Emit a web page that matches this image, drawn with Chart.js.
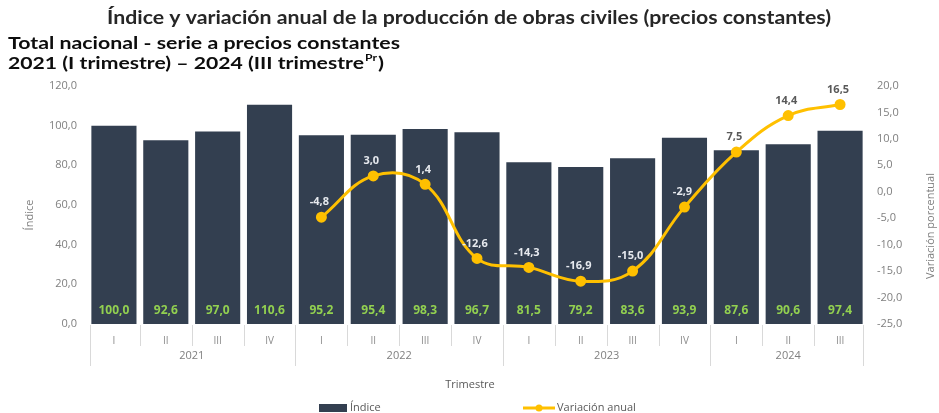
<!DOCTYPE html>
<html><head><meta charset="utf-8">
<script src="https://cdn.jsdelivr.net/npm/chart.js@4"></script>
<style>html,body{margin:0;padding:0;background:#fff;}#wrap{width:939px;height:413px;position:relative;}</style>
</head><body><div id="wrap"><canvas id="c" width="939" height="413"></canvas></div>
<script>
const quarters = ["I","II","III","IV","I","II","III","IV","I","II","III","IV","I","II","III"];
const years = ["2021","2022","2023","2024"];
const yearSizes = [4,4,4,3];
const indice = [100.0,92.6,97.0,110.6,95.2,95.4,98.3,96.7,81.5,79.2,83.6,93.9,87.6,90.6,97.4];
const variacion = [null,null,null,null,-4.8,3.0,1.4,-12.6,-14.3,-16.9,-15.0,-2.9,7.5,14.4,16.5];
const leftTicks = [0,20,40,60,80,100,120];
const rightTicks = [-25,-20,-15,-10,-5,0,5,10,15,20];

const fmt = v => v.toFixed(1).replace('.', ',');
const BAR = '#333f50', YEL = '#ffc000', GRAY = '#7f7f7f', DARK = '#595959';

function fitText(ctx, text, x, y, w) {
  const m = ctx.measureText(text).width;
  const s = w / m;
  ctx.save();
  ctx.translate(x, y);
  ctx.scale(s, 1);
  ctx.textAlign = 'left';
  ctx.fillText(text, 0, 0);
  ctx.restore();
  return m * s;
}

const deco = {
  id: 'deco',
  afterDraw(chart) {
    const ctx = chart.ctx;
    const x = chart.scales.x;
    const ca = chart.chartArea;
    const w = (ca.right - ca.left) / quarters.length;
    // titles
    ctx.save();
    ctx.fillStyle = '#262626';
    ctx.textBaseline = 'middle';
    ctx.font = 'bold 18px Lato';
    fitText(ctx, 'Índice y variación anual de la producción de obras civiles (precios constantes)', 107, 18, 724);
    ctx.font = 'bold 17px Lato';
    ctx.fillStyle = '#0d0d0d';
    fitText(ctx, 'Total nacional - serie a precios constantes', 8, 44, 392);
    const t3 = '2021 (I trimestre) – 2024 (III trimestre';
    const ww = fitText(ctx, t3, 8, 64, 356);
    ctx.font = 'bold 10px Lato';
    const pw = fitText(ctx, 'Pr', 8 + ww + 1, 58, 12);
    ctx.font = 'bold 17px Lato';
    fitText(ctx, ')', 8 + ww + pw + 2, 64, 6);
    ctx.restore();

    // separators
    ctx.save();
    ctx.strokeStyle = '#d9d9d9';
    ctx.lineWidth = 1;
    const yb = [0,4,8,12,15];
    for (let i = 0; i <= quarters.length; i++) {
      const px = Math.round(ca.left + i * w) + 0.5 + (i === 0 ? 2 : 0) - (i === quarters.length ? 3 : 0);
      ctx.beginPath();
      ctx.moveTo(px, ca.bottom + 1);
      ctx.lineTo(px, yb.includes(i) ? ca.bottom + 42 : ca.bottom + 22);
      ctx.stroke();
    }
    // year labels
    ctx.fillStyle = GRAY;
    ctx.font = '11px "Open Sans"';
    ctx.textAlign = 'center';
    ctx.textBaseline = 'middle';
    let start = 0;
    years.forEach((yv, k) => {
      const a = x.getPixelForValue(start), b = x.getPixelForValue(start + yearSizes[k] - 1);
      ctx.fillText(yv, (a + b) / 2, ca.bottom + 32);
      start += yearSizes[k];
    });
    // axis titles
    ctx.fillStyle = DARK;
    ctx.font = '11px "Open Sans"';
    ctx.fillText('Trimestre', 470, 385);
    ctx.save();
    ctx.translate(30, 215); ctx.rotate(-Math.PI / 2);
    ctx.fillStyle = GRAY; ctx.font = '11px "Open Sans"';
    ctx.fillText('Índice', 0, 0);
    ctx.restore();
    ctx.save();
    ctx.translate(931, 226); ctx.rotate(-Math.PI / 2);
    ctx.fillStyle = GRAY; ctx.font = '11px "Open Sans"';
    ctx.fillText('Variación porcentual', 0, 0);
    ctx.restore();

    // bar labels
    const lm = chart.getDatasetMeta(0);
    const bm = chart.getDatasetMeta(1);
    ctx.font = 'bold 12px "Open Sans"';
    ctx.fillStyle = '#92d050';
    bm.data.forEach((el, i) => {
      ctx.fillText(fmt(indice[i]), el.x, ca.bottom - 13);
    });
    // line labels
    ctx.font = 'bold 11px "Open Sans"';
    lm.data.forEach((el, i) => {
      if (variacion[i] === null) return;
      const ly = el.y - 15;
      const barTop = bm.data[i].y;
      ctx.fillStyle = ly > barTop + 4 ? '#e6e9ee' : DARK;
      ctx.fillText(fmt(variacion[i]), el.x - 2, ly);
    });

    // legend
    ctx.fillStyle = BAR;
    ctx.fillRect(319, 404, 28, 8);
    ctx.fillStyle = DARK;
    ctx.font = '11px "Open Sans"';
    ctx.textAlign = 'left';
    ctx.fillText('Índice', 350, 408);
    ctx.strokeStyle = YEL; ctx.lineWidth = 3;
    ctx.beginPath(); ctx.moveTo(523, 408); ctx.lineTo(555, 408); ctx.stroke();
    ctx.fillStyle = YEL;
    ctx.beginPath(); ctx.arc(539, 408, 3.5, 0, Math.PI * 2); ctx.fill();
    ctx.fillStyle = DARK;
    ctx.fillText('Variación anual', 557, 408);
    ctx.restore();
  }
};

new Chart(document.getElementById('c'), {
  data: {
    labels: quarters,
    datasets: [
      { type: 'line', label: 'Variación anual', data: variacion, yAxisID: 'y2', order: 0,
        borderColor: YEL, backgroundColor: YEL, borderWidth: 3, tension: 0.4,
        pointRadius: 4, pointBackgroundColor: YEL, pointBorderColor: YEL, spanGaps: false },
      { type: 'bar', label: 'Índice', data: indice, yAxisID: 'y', order: 1,
        backgroundColor: BAR, barPercentage: 0.87, categoryPercentage: 1.0 }
    ]
  },
  options: {
    responsive: false, animation: false,
    layout: { padding: { top: 86, left: 0, right: 0, bottom: 0 } },
    plugins: { legend: { display: false }, tooltip: { enabled: false } },
    scales: {
      x: {
        grid: { display: false }, border: { display: false },
        ticks: { color: '#8c8c8c', font: { size: 10, family: 'Open Sans' }, padding: 3, maxRotation: 0, autoSkip: false },
        afterFit(s) { s.height = 89; }
      },
      y: {
        position: 'left', min: 0, max: 120,
        grid: { display: false, drawTicks: false }, border: { display: false },
        ticks: { stepSize: 20, padding: 11, color: GRAY, font: { size: 11, family: 'Open Sans' }, callback: v => fmt(v) },
        afterBuildTicks(s) { s.ticks = leftTicks.map(v => ({ value: v })); },
        afterFit(s) { s.width = 88; }
      },
      y2: {
        position: 'right', min: -25, max: 20,
        grid: { display: false, drawTicks: false }, border: { display: false },
        ticks: { stepSize: 5, padding: 11, color: GRAY, font: { size: 11, family: 'Open Sans' }, callback: v => fmt(v) },
        afterBuildTicks(s) { s.ticks = rightTicks.map(v => ({ value: v })); },
        afterFit(s) { s.width = 73; }
      }
    }
  },
  plugins: [deco]
});
</script></body></html>
